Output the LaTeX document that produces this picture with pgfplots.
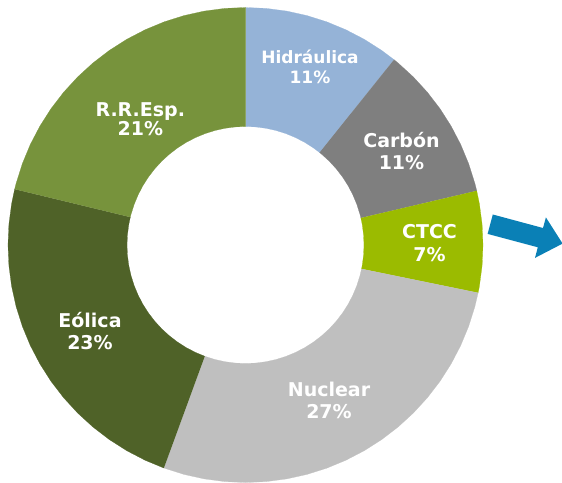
\documentclass[border=0pt]{standalone}
\usepackage{pgfplots}
\pgfplotsset{compat=1.18}
\usepackage{fontspec}
\setmainfont{DejaVu Sans}
\definecolor{hid}{HTML}{95B3D7}
\definecolor{carb}{HTML}{7F7F7F}
\definecolor{ctcc}{HTML}{9BBB00}
\definecolor{nuc}{HTML}{BFBFBF}
\definecolor{eol}{HTML}{4F6228}
\definecolor{rre}{HTML}{77933C}
\definecolor{arrowblue}{HTML}{0A80B6}
\begin{document}
\begin{tikzpicture}
\useasboundingbox (0,0) rectangle (562pt,482pt);
% shares (%): Hidraulica 10.75, Carbon 10.58, CTCC 6.89, Nuclear 27.36, Eolica 23.19, R.R.Esp. 21.22
% slices given as (angle, radius), clockwise from the top
\begin{axis}[at={(0,0)}, anchor=south west,
  x=1pt, y=1pt, xmin=-245.5, xmax=316.5, ymin=-237, ymax=245,
  hide axis]
\addplot[data cs=polar, fill=hid, draw=hid, line width=0.2pt] coordinates {
 (90,237.5) (85,237.5) (80,237.5) (75,237.5) (70,237.5) (65,237.5) (60,237.5) (55,237.5) (51.3,237.5)
 (51.3,118.5) (55,118.5) (60,118.5) (65,118.5) (70,118.5) (75,118.5) (80,118.5) (85,118.5) (90,118.5)};
\addplot[data cs=polar, fill=carb, draw=carb, line width=0.2pt] coordinates {
 (51.3,237.5) (50,237.5) (45,237.5) (40,237.5) (35,237.5) (30,237.5) (25,237.5) (20,237.5) (15,237.5) (13.2,237.5)
 (13.2,118.5) (15,118.5) (20,118.5) (25,118.5) (30,118.5) (35,118.5) (40,118.5) (45,118.5) (50,118.5) (51.3,118.5)};
\addplot[data cs=polar, fill=ctcc, draw=ctcc, line width=0.2pt] coordinates {
 (13.2,237.5) (10,237.5) (5,237.5) (0,237.5) (-5,237.5) (-10,237.5) (-11.6,237.5)
 (-11.6,118.5) (-10,118.5) (-5,118.5) (0,118.5) (5,118.5) (10,118.5) (13.2,118.5)};
\addplot[data cs=polar, fill=nuc, draw=nuc, line width=0.2pt] coordinates {
 (-11.6,237.5) (-15,237.5) (-20,237.5) (-25,237.5) (-30,237.5) (-35,237.5) (-40,237.5) (-45,237.5) (-50,237.5) (-55,237.5)
 (-60,237.5) (-65,237.5) (-70,237.5) (-75,237.5) (-80,237.5) (-85,237.5) (-90,237.5) (-95,237.5) (-100,237.5) (-105,237.5) (-110.1,237.5)
 (-110.1,118.5) (-105,118.5) (-100,118.5) (-95,118.5) (-90,118.5) (-85,118.5) (-80,118.5) (-75,118.5) (-70,118.5) (-65,118.5)
 (-60,118.5) (-55,118.5) (-50,118.5) (-45,118.5) (-40,118.5) (-35,118.5) (-30,118.5) (-25,118.5) (-20,118.5) (-15,118.5) (-11.6,118.5)};
\addplot[data cs=polar, fill=eol, draw=eol, line width=0.2pt] coordinates {
 (-110.1,237.5) (-115,237.5) (-120,237.5) (-125,237.5) (-130,237.5) (-135,237.5) (-140,237.5) (-145,237.5) (-150,237.5)
 (-155,237.5) (-160,237.5) (-165,237.5) (-170,237.5) (-175,237.5) (-180,237.5) (-185,237.5) (-190,237.5) (-193.6,237.5)
 (-193.6,118.5) (-190,118.5) (-185,118.5) (-180,118.5) (-175,118.5) (-170,118.5) (-165,118.5) (-160,118.5) (-155,118.5)
 (-150,118.5) (-145,118.5) (-140,118.5) (-135,118.5) (-130,118.5) (-125,118.5) (-120,118.5) (-115,118.5) (-110.1,118.5)};
\addplot[data cs=polar, fill=rre, draw=rre, line width=0.2pt] coordinates {
 (-193.6,237.5) (-195,237.5) (-200,237.5) (-205,237.5) (-210,237.5) (-215,237.5) (-220,237.5) (-225,237.5) (-230,237.5)
 (-235,237.5) (-240,237.5) (-245,237.5) (-250,237.5) (-255,237.5) (-260,237.5) (-265,237.5) (-270,237.5)
 (-270,118.5) (-265,118.5) (-260,118.5) (-255,118.5) (-250,118.5) (-245,118.5) (-240,118.5) (-235,118.5) (-230,118.5)
 (-225,118.5) (-220,118.5) (-215,118.5) (-210,118.5) (-205,118.5) (-200,118.5) (-195,118.5) (-193.6,118.5)};
% arrow
\addplot[fill=arrowblue, draw=none] coordinates {
 (247.3,30.5) (297.5,17.0) (300.4,27.6) (317.1,1.4) (289.5,-12.9) (292.3,-2.3) (242.1,11.1)};
% labels
\begin{scope}[every node/.style={text=white, font=\bfseries\fontsize{19}{22}\selectfont, anchor=base, inner sep=0pt}]
\node[font=\bfseries\fontsize{17}{20}\selectfont] at (axis cs:64.5,181.7) {Hidráulica};
\node[font=\bfseries\fontsize{17}{20}\selectfont] at (axis cs:64.5,161.7) {11\%};
\node at (axis cs:156,97.7) {Carbón};
\node at (axis cs:156,75) {11\%};
\node at (axis cs:184,6.7) {CTCC};
\node at (axis cs:184,-17) {7\%};
\node at (axis cs:83.5,-151.7) {Nuclear};
\node at (axis cs:83.5,-173.3) {27\%};
\node at (axis cs:-155.5,-82.7) {Eólica};
\node at (axis cs:-155.5,-105) {23\%};
\node at (axis cs:-105.2,128.3) {R.R.Esp.};
\node at (axis cs:-105.2,109) {21\%};
\end{scope}
\end{axis}
\end{tikzpicture}
\end{document}
